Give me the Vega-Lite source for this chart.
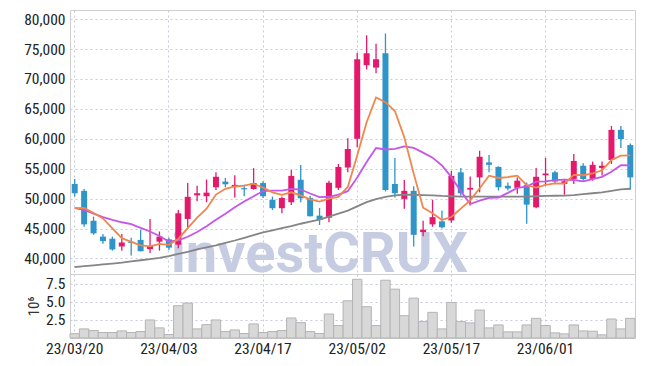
{
  "$schema": "https://vega.github.io/schema/vega-lite/v6.json",
  "autosize": {"type": "pad"},
  "padding": {"left": 23, "top": 9, "right": 9, "bottom": 5},
  "background": "white",
  "spacing": 0,
  "bounds": "flush",
  "config": {
    "font": "Liberation Sans Narrow, Roboto Condensed, Roboto, sans-serif",
    "view": {"stroke": "#cfcfcf", "strokeWidth": 1},
    "axis": {
      "labelFont": "Liberation Sans Narrow, Roboto Condensed, Roboto, sans-serif",
      "labelFontSize": 15.5,
      "labelColor": "#222222",
      "gridColor": "#c5cbdc",
      "gridDash": [2, 3],
      "gridWidth": 1,
      "ticks": false,
      "domain": false,
      "labelPadding": 5,
      "titleFont": "Liberation Sans Narrow, Roboto Condensed, Roboto, sans-serif",
      "titleFontSize": 15,
      "titleFontWeight": "normal",
      "titleColor": "#333333"
    }
  },
  "datasets": {
    "k": [
      {"d": "23/03/20", "o": 52450, "h": 53300, "l": 50350, "c": 50900, "v": 0.6, "m5": 48400, "m10": 48400, "m60": 38550},
      {"d": "23/03/21", "o": 51300, "h": 51600, "l": 45300, "c": 45700, "v": 1.26, "m5": 48450, "m10": 48100, "m60": 38700},
      {"d": "23/03/22", "o": 46300, "h": 47000, "l": 43950, "c": 44200, "v": 1.03, "m5": 47600, "m10": 47500, "m60": 38850},
      {"d": "23/03/23", "o": 43650, "h": 44100, "l": 42450, "c": 42900, "v": 0.76, "m5": 46700, "m10": 46900, "m60": 39000},
      {"d": "23/03/24", "o": 43300, "h": 43650, "l": 41300, "c": 41500, "v": 0.76, "m5": 45040, "m10": 46450, "m60": 39150},
      {"d": "23/03/27", "o": 42000, "h": 44100, "l": 41300, "c": 42670, "v": 0.98, "m5": 43390, "m10": 46050, "m60": 39300},
      {"d": "23/03/28", "o": 42800, "h": 43450, "l": 40500, "c": 42600, "v": 0.76, "m5": 42780, "m10": 45750, "m60": 39500},
      {"d": "23/03/29", "o": 43100, "h": 44800, "l": 41200, "c": 41200, "v": 0.89, "m5": 42180, "m10": 45100, "m60": 39700},
      {"d": "23/03/30", "o": 41550, "h": 46600, "l": 40900, "c": 42100, "v": 2.5, "m5": 42020, "m10": 44500, "m60": 39900},
      {"d": "23/03/31", "o": 42800, "h": 44500, "l": 41300, "c": 43650, "v": 1.4, "m5": 42450, "m10": 43750, "m60": 40100},
      {"d": "23/04/03", "o": 43200, "h": 43500, "l": 41400, "c": 41800, "v": 0.48, "m5": 42280, "m10": 42840, "m60": 40400},
      {"d": "23/04/04", "o": 42300, "h": 48100, "l": 41700, "c": 47550, "v": 4.47, "m5": 43260, "m10": 43020, "m60": 40750},
      {"d": "23/04/05", "o": 46600, "h": 52600, "l": 45100, "c": 50300, "v": 4.83, "m5": 45080, "m10": 43630, "m60": 41100},
      {"d": "23/04/06", "o": 50550, "h": 52150, "l": 49550, "c": 50900, "v": 1.26, "m5": 46840, "m10": 44430, "m60": 41500},
      {"d": "23/04/07", "o": 50400, "h": 53200, "l": 49400, "c": 51000, "v": 1.85, "m5": 48310, "m10": 45380, "m60": 41850},
      {"d": "23/04/10", "o": 51900, "h": 54400, "l": 51450, "c": 53650, "v": 2.5, "m5": 50680, "m10": 46480, "m60": 42200},
      {"d": "23/04/11", "o": 52850, "h": 53450, "l": 51900, "c": 52400, "v": 0.89, "m5": 51650, "m10": 47455, "m60": 42600},
      {"d": "23/04/12", "o": 52100, "h": 53900, "l": 50200, "c": 52300, "v": 1.12, "m5": 52030, "m10": 48555, "m60": 43000},
      {"d": "23/04/13", "o": 51750, "h": 52300, "l": 50400, "c": 51550, "v": 0.62, "m5": 52170, "m10": 49505, "m60": 43450},
      {"d": "23/04/14", "o": 51600, "h": 55100, "l": 51500, "c": 52600, "v": 1.95, "m5": 52490, "m10": 50400, "m60": 43900},
      {"d": "23/04/17", "o": 52600, "h": 52900, "l": 50100, "c": 50400, "v": 0.76, "m5": 51840, "m10": 51260, "m60": 44350},
      {"d": "23/04/18", "o": 49800, "h": 50350, "l": 48100, "c": 48400, "v": 0.89, "m5": 51040, "m10": 51345, "m60": 44700},
      {"d": "23/04/19", "o": 48400, "h": 50350, "l": 47550, "c": 50100, "v": 1.03, "m5": 50620, "m10": 51325, "m60": 45050},
      {"d": "23/04/20", "o": 49400, "h": 54800, "l": 48950, "c": 53800, "v": 2.77, "m5": 51060, "m10": 51615, "m60": 45400},
      {"d": "23/04/21", "o": 53150, "h": 55600, "l": 49400, "c": 50050, "v": 2.13, "m5": 50550, "m10": 51520, "m60": 45800},
      {"d": "23/04/24", "o": 50100, "h": 50500, "l": 47000, "c": 47050, "v": 0.89, "m5": 49880, "m10": 50860, "m60": 46150},
      {"d": "23/04/25", "o": 47150, "h": 48450, "l": 45600, "c": 46450, "v": 0.62, "m5": 49490, "m10": 50265, "m60": 46500},
      {"d": "23/04/26", "o": 46800, "h": 53000, "l": 46050, "c": 52650, "v": 3.32, "m5": 50000, "m10": 50310, "m60": 47000},
      {"d": "23/04/27", "o": 51800, "h": 55800, "l": 51450, "c": 55300, "v": 1.72, "m5": 50300, "m10": 50680, "m60": 47500},
      {"d": "23/04/28", "o": 55200, "h": 60100, "l": 54400, "c": 58300, "v": 5.15, "m5": 51950, "m10": 51250, "m60": 48000},
      {"d": "23/05/02", "o": 60000, "h": 74400, "l": 58600, "c": 73300, "v": 8.13, "m5": 57200, "m10": 53540, "m60": 48700},
      {"d": "23/05/03", "o": 72300, "h": 77300, "l": 71600, "c": 74300, "v": 4.33, "m5": 62770, "m10": 56130, "m60": 49400},
      {"d": "23/05/04", "o": 71900, "h": 75900, "l": 70950, "c": 73300, "v": 1.72, "m5": 66900, "m10": 58450, "m60": 49900},
      {"d": "23/05/08", "o": 74300, "h": 77600, "l": 51200, "c": 51450, "v": 8.0, "m5": 66130, "m10": 58215, "m60": 50300},
      {"d": "23/05/09", "o": 52450, "h": 56800, "l": 50200, "c": 50900, "v": 6.76, "m5": 64650, "m10": 58300, "m60": 50550},
      {"d": "23/05/10", "o": 49950, "h": 53100, "l": 48300, "c": 51300, "v": 3.09, "m5": 60250, "m10": 58725, "m60": 50650},
      {"d": "23/05/11", "o": 51300, "h": 52050, "l": 42000, "c": 43950, "v": 5.52, "m5": 54180, "m10": 58475, "m60": 50650},
      {"d": "23/05/12", "o": 44400, "h": 46300, "l": 43700, "c": 44800, "v": 2.27, "m5": 48480, "m10": 57690, "m60": 50600},
      {"d": "23/05/15", "o": 45700, "h": 49800, "l": 45300, "c": 46900, "v": 3.55, "m5": 47570, "m10": 56850, "m60": 50550},
      {"d": "23/05/16", "o": 46200, "h": 48000, "l": 45000, "c": 45200, "v": 1.26, "m5": 46430, "m10": 55540, "m60": 50450},
      {"d": "23/05/17", "o": 46350, "h": 54650, "l": 45950, "c": 53800, "v": 4.92, "m5": 46930, "m10": 53590, "m60": 50400},
      {"d": "23/05/18", "o": 54400, "h": 55100, "l": 50500, "c": 50900, "v": 2.27, "m5": 48320, "m10": 51250, "m60": 50350},
      {"d": "23/05/19", "o": 51500, "h": 53700, "l": 48850, "c": 51800, "v": 2.09, "m5": 49720, "m10": 49100, "m60": 50350},
      {"d": "23/05/22", "o": 53550, "h": 58000, "l": 51050, "c": 57000, "v": 3.87, "m5": 51740, "m10": 49655, "m60": 50350},
      {"d": "23/05/23", "o": 56050, "h": 57300, "l": 54400, "c": 55650, "v": 1.4, "m5": 53830, "m10": 50130, "m60": 50350},
      {"d": "23/05/24", "o": 55300, "h": 55400, "l": 51350, "c": 51900, "v": 1.81, "m5": 53450, "m10": 50190, "m60": 50350},
      {"d": "23/05/25", "o": 52150, "h": 52700, "l": 51350, "c": 51700, "v": 0.85, "m5": 53610, "m10": 50965, "m60": 50350},
      {"d": "23/05/26", "o": 51800, "h": 53550, "l": 50800, "c": 53000, "v": 0.85, "m5": 53850, "m10": 51785, "m60": 50350},
      {"d": "23/05/30", "o": 52300, "h": 52700, "l": 45800, "c": 49000, "v": 1.81, "m5": 52250, "m10": 51995, "m60": 50350},
      {"d": "23/05/31", "o": 48550, "h": 55100, "l": 48400, "c": 53650, "v": 2.72, "m5": 51850, "m10": 52840, "m60": 50400},
      {"d": "23/06/01", "o": 53900, "h": 56800, "l": 52200, "c": 54200, "v": 1.72, "m5": 52310, "m10": 52880, "m60": 50450},
      {"d": "23/06/02", "o": 54400, "h": 54650, "l": 52550, "c": 52850, "v": 0.71, "m5": 52540, "m10": 53075, "m60": 50480},
      {"d": "23/06/05", "o": 52450, "h": 53300, "l": 50650, "c": 52900, "v": 0.57, "m5": 52520, "m10": 53185, "m60": 50500},
      {"d": "23/06/07", "o": 53300, "h": 57450, "l": 52450, "c": 56300, "v": 1.81, "m5": 53980, "m10": 53115, "m60": 50600},
      {"d": "23/06/08", "o": 55500, "h": 55900, "l": 53000, "c": 53300, "v": 0.98, "m5": 53910, "m10": 52880, "m60": 50750},
      {"d": "23/06/09", "o": 53300, "h": 56200, "l": 53000, "c": 55650, "v": 0.94, "m5": 54200, "m10": 53255, "m60": 50900},
      {"d": "23/06/12", "o": 55100, "h": 56200, "l": 53850, "c": 55500, "v": 0.44, "m5": 54730, "m10": 53635, "m60": 51050},
      {"d": "23/06/13", "o": 56450, "h": 62150, "l": 55800, "c": 61500, "v": 2.63, "m5": 56450, "m10": 54485, "m60": 51300},
      {"d": "23/06/14", "o": 61500, "h": 62150, "l": 58450, "c": 59950, "v": 1.26, "m5": 57180, "m10": 55580, "m60": 51550},
      {"d": "23/06/15", "o": 58950, "h": 59200, "l": 51500, "c": 53550, "v": 2.72, "m5": 57230, "m10": 55570, "m60": 51650}
    ]
  },
  "vconcat": [
    {
      "width": 565,
      "height": 264,
      "data": {"name": "k"},
      "encoding": {
        "x": {
          "field": "d",
          "type": "ordinal",
          "scale": {"type": "band", "paddingInner": 0, "paddingOuter": 0},
          "axis": {
            "values": ["23/03/20", "23/04/03", "23/04/17", "23/05/02", "23/05/17", "23/06/01"],
            "labels": false,
            "title": null,
            "grid": true,
            "bandPosition": 0.5,
            "minExtent": 0,
            "maxExtent": 0,
            "labelPadding": 0
          }
        }
      },
      "layer": [
        {
          "data": {"values": [{"t": "investCRUX", "d": "23/04/25", "p": 37700}]},
          "mark": {"type": "text", "font": "Roboto", "fontWeight": "bold", "fontSize": 56, "fill": "#c6cde2", "align": "center", "baseline": "alphabetic"},
          "encoding": {
            "x": {"field": "d", "type": "ordinal"},
            "y": {
              "field": "p",
              "type": "quantitative",
              "scale": {"domain": [37400, 81530], "nice": false, "zero": false},
              "axis": {"values": [40000, 45000, 50000, 55000, 60000, 65000, 70000, 75000, 80000], "format": ",d", "title": null, "grid": true}
            },
            "text": {"field": "t"}
          }
        },
        {
          "mark": {"type": "rule", "strokeWidth": 1.3},
          "encoding": {
            "y": {
              "field": "l",
              "type": "quantitative",
              "axis": {"values": [40000, 45000, 50000, 55000, 60000, 65000, 70000, 75000, 80000], "format": ",d", "title": null, "grid": true}
            },
            "y2": {"field": "h"},
            "color": {"condition": {"test": "datum.c >= datum.o", "value": "#e5196b"}, "value": "#2f95c9"}
          }
        },
        {
          "mark": {"type": "bar", "size": 6},
          "encoding": {
            "y": {
              "field": "o",
              "type": "quantitative",
              "axis": {"values": [40000, 45000, 50000, 55000, 60000, 65000, 70000, 75000, 80000], "format": ",d", "title": null, "grid": true}
            },
            "y2": {"field": "c"},
            "color": {"condition": {"test": "datum.c >= datum.o", "value": "#e5196b"}, "value": "#2f95c9"}
          }
        },
        {
          "mark": {"type": "line", "color": "#858585", "strokeWidth": 1.8},
          "encoding": {"y": {"field": "m60", "type": "quantitative", "axis": {"values": [40000, 45000, 50000, 55000, 60000, 65000, 70000, 75000, 80000], "format": ",d", "title": null, "grid": true}}}
        },
        {
          "mark": {"type": "line", "color": "#c655ea", "strokeWidth": 1.8},
          "encoding": {"y": {"field": "m10", "type": "quantitative", "axis": {"values": [40000, 45000, 50000, 55000, 60000, 65000, 70000, 75000, 80000], "format": ",d", "title": null, "grid": true}}}
        },
        {
          "mark": {"type": "line", "color": "#f0864e", "strokeWidth": 1.8},
          "encoding": {"y": {"field": "m5", "type": "quantitative", "axis": {"values": [40000, 45000, 50000, 55000, 60000, 65000, 70000, 75000, 80000], "format": ",d", "title": null, "grid": true}}}
        }
      ]
    },
    {
      "width": 565,
      "height": 64,
      "data": {"name": "k"},
      "mark": {"type": "bar", "fill": "#d8d8d8", "stroke": "#b4b4b4", "strokeWidth": 1},
      "encoding": {
        "x": {
          "field": "d",
          "type": "ordinal",
          "scale": {"type": "band", "paddingInner": 0, "paddingOuter": 0},
          "axis": {
            "values": ["23/03/20", "23/04/03", "23/04/17", "23/05/02", "23/05/17", "23/06/01"],
            "title": null,
            "grid": true,
            "bandPosition": 0.5,
            "labelAngle": 0,
            "labelPadding": 3
          }
        },
        "y": {
          "field": "v",
          "type": "quantitative",
          "scale": {"domain": [0, 8.86], "nice": false},
          "axis": {"values": [2.5, 5, 7.5], "format": ".1f", "title": "10⁶", "titlePadding": 4, "grid": true}
        }
      }
    }
  ]
}
